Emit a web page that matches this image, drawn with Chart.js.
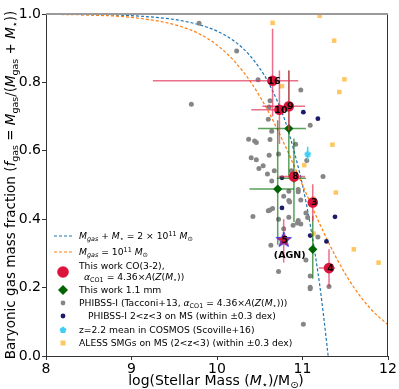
<!DOCTYPE html>
<html>
<head>
<meta charset="utf-8">
<script src="https://cdn.jsdelivr.net/npm/chart.js@4.4.0/dist/chart.umd.min.js"></script>
<style>
  html, body { margin: 0; padding: 0; background: #fff; }
</style>
</head>
<body>
<canvas id="c" width="399" height="389"></canvas>
<script>
// values

const xTicks = [8, 9, 10, 11, 12];
const xTickLabels = ['8', '9', '10', '11', '12'];
const yTicks = [0, 0.2, 0.4, 0.6, 0.8, 1.0];
const yTickLabels = ['0.0', '0.2', '0.4', '0.6', '0.8', '1.0'];

// model curves (sampled from the plot)
const blueX = [8, 8.5, 9, 9.5, 9.8, 10, 10.2, 10.4, 10.6, 10.8, 10.9, 11, 11.1, 11.2, 11.25, 11.3];
const blueY = [1.0, 0.998, 0.995, 0.984, 0.968, 0.95, 0.921, 0.874, 0.80, 0.685, 0.60, 0.50, 0.37, 0.21, 0.11, 0.0];
const orangeX = [8, 8.5, 9, 9.5, 9.8, 10, 10.2, 10.4, 10.6, 10.8, 11, 11.2, 11.4, 11.6, 11.8, 12];
const orangeY = [0.999, 0.997, 0.990, 0.969, 0.941, 0.909, 0.863, 0.799, 0.715, 0.613, 0.50, 0.387, 0.285, 0.201, 0.137, 0.091];

// this work CO(3-2)
const redLabels = ['16', '10', '9', '8', '3', '4'];
const redX = [10.65, 10.73, 10.84, 10.90, 11.12, 11.31];
const redY = [0.805, 0.72, 0.73, 0.525, 0.449, 0.257];
const redXLo = [9.25, 10.40, 10.53, 10.72, 11.08, 11.19];
const redXHi = [10.95, 10.88, 11.03, 11.03, 11.16, 11.38];
const redYLo = [0.70, 0.62, 0.66, 0.515, 0.395, 0.202];
const redYHi = [0.957, 0.835, 0.835, 0.535, 0.502, 0.312];

// AGN source (star)
const agnX = [10.78];
const agnY = [0.339];
const agnYLo = [0.273];
const agnYHi = [0.40];

// this work 1.1 mm
const greenX = [10.84, 10.90, 10.71, 11.12];
const greenY = [0.665, 0.52, 0.488, 0.312];
const greenXLo = [10.48, 10.70, 10.38, 11.08];
const greenXHi = [11.04, 11.04, 10.90, 11.16];
const greenYLo = [0.523, 0.392, 0.325, 0.226];
const greenYHi = [0.835, 0.636, 0.689, 0.41];

// PHIBSS-I
const grayX = [9.79, 10.23, 9.70, 10.48, 10.98, 10.62, 10.61, 10.60, 11.09, 10.64, 10.37, 10.44, 10.46, 10.62, 10.92,
  10.40, 10.46, 10.61, 10.72, 11.05, 10.49, 10.54, 10.59, 10.67, 10.64, 10.87, 11.24, 10.84, 10.78, 10.84, 10.85,
  10.95, 10.98, 10.65, 10.60, 10.62, 10.42, 10.84, 10.95, 10.89, 10.98, 11.06, 11.04, 10.94, 10.63, 11.04, 10.72,
  11.09, 11.09, 11.09, 11.31, 11.01, 11.18, 10.78, 10.72, 10.95];
const grayY = [0.973, 0.892, 0.736, 0.808, 0.778, 0.746, 0.728, 0.692, 0.675, 0.657, 0.634, 0.629, 0.624, 0.633, 0.619,
  0.580, 0.574, 0.587, 0.591, 0.572, 0.548, 0.556, 0.532, 0.542, 0.512, 0.542, 0.525, 0.482, 0.467, 0.455, 0.450,
  0.480, 0.456, 0.431, 0.425, 0.427, 0.408, 0.406, 0.396, 0.382, 0.386, 0.405, 0.418, 0.389, 0.324, 0.281, 0.247,
  0.234, 0.201, 0.197, 0.203, 0.093, 0.348, 0.372, 0.40, 0.487];

// PHIBSS-I 2<z<3 on MS
const navyX = [11.01, 11.18, 10.76, 10.76, 11.38, 11.09, 11.28];
const navyY = [0.713, 0.694, 0.521, 0.433, 0.407, 0.352, 0.335];

// Scoville+16 mean
const cyanX = [11.06];
const cyanY = [0.59];
const cyanYLo = [0.572];
const cyanYHi = [0.612];

// ALESS SMGs
const alessX = [10.65, 11.20, 11.37, 11.49, 11.43, 10.76, 11.35, 11.02, 11.39, 11.13, 11.13, 11.60, 11.89];
const alessY = [0.974, 0.995, 0.922, 0.809, 0.772, 0.789, 0.618, 0.558, 0.478, 0.46, 0.358, 0.312, 0.273];

const FONT = '"DejaVu Sans", sans-serif';
const RED = '#DC143C';
const RED_ERR = 'rgba(228, 50, 90, 0.7)';
const GREEN = '#006400';
const GREEN_ERR = 'rgba(0, 110, 0, 0.65)';
const GRAY = '#868686';
const NAVY = '#1c1a6a';
const CYAN = '#3fcff5';
const ALESS = 'rgba(255, 165, 0, 0.62)';

function pts(xs, ys) {
  return xs.map((x, i) => ({ x, y: ys[i] }));
}

function pentagon(r, color) {
  const c = document.createElement('canvas');
  c.width = c.height = Math.ceil(r * 2 + 2);
  const g = c.getContext('2d');
  const m = c.width / 2;
  g.beginPath();
  for (let i = 0; i < 5; i++) {
    const a = -Math.PI / 2 + i * 2 * Math.PI / 5;
    g.lineTo(m + r * Math.cos(a), m + r * Math.sin(a));
  }
  g.closePath();
  g.fillStyle = color;
  g.fill();
  return c;
}

function starImg(r) {
  const c = document.createElement('canvas');
  c.width = c.height = Math.ceil(r * 2 + 4);
  const g = c.getContext('2d');
  const m = c.width / 2;
  g.beginPath();
  for (let i = 0; i < 10; i++) {
    const a = -Math.PI / 2 + i * Math.PI / 5;
    const rr = i % 2 ? r * 0.42 : r;
    g.lineTo(m + rr * Math.cos(a), m + rr * Math.sin(a));
  }
  g.closePath();
  g.fillStyle = RED;
  g.fill();
  g.strokeStyle = '#3a3af0';
  g.lineWidth = 1;
  g.stroke();
  return c;
}

const cyanImg = pentagon(3.6, CYAN);
const agnImg = starImg(8);

function errSet(xs, ys, xlo, xhi, ylo, yhi, color) {
  return { xs, ys, xlo, xhi, ylo, yhi, color };
}

function drawErrors(chart, e) {
  const ctx = chart.ctx;
  const sx = chart.scales.x, sy = chart.scales.y;
  ctx.save();
  ctx.strokeStyle = e.color;
  ctx.lineWidth = 1.5;
  e.xs.forEach((x, i) => {
    const px = sx.getPixelForValue(x), py = sy.getPixelForValue(e.ys[i]);
    ctx.beginPath();
    if (e.xlo) {
      ctx.moveTo(sx.getPixelForValue(e.xlo[i]), py);
      ctx.lineTo(sx.getPixelForValue(e.xhi[i]), py);
    }
    if (e.ylo) {
      ctx.moveTo(px, sy.getPixelForValue(e.ylo[i]));
      ctx.lineTo(px, sy.getPixelForValue(e.yhi[i]));
    }
    ctx.stroke();
  });
  ctx.restore();
}

// draws text made of pieces: n normal, i italic, s subscript, si italic subscript, p superscript
function segFont(k, size) {
  const small = k === 's' || k === 'si' || k === 'p';
  const it = k === 'i' || k === 'si';
  return (it ? 'italic ' : '') + (small ? size * 0.7 : size) + 'px ' + FONT;
}
function richWidth(ctx, segs, size) {
  let w = 0;
  segs.forEach(([t, k]) => {
    ctx.font = segFont(k, size);
    w += ctx.measureText(t).width;
  });
  return w;
}
function drawRich(ctx, x, y, segs, size) {
  ctx.textAlign = 'left';
  ctx.textBaseline = 'alphabetic';
  segs.forEach(([t, k]) => {
    ctx.font = segFont(k, size);
    let dy = 0;
    if (k === 's' || k === 'si') dy = size * 0.22;
    if (k === 'p') dy = -size * 0.4;
    ctx.fillText(t, x, y + dy);
    x += ctx.measureText(t).width;
  });
}

const alphaCO = [['α', 'i'], ['CO1', 's'], [' = 4.36×', 'n'], ['A', 'i'], ['(', 'n'], ['Z', 'i'], ['(', 'n'], ['M', 'i'], ['⋆', 's']];
const legendRows = [
  { y: 236, x: 79, segs: [['M', 'i'], ['gas', 'si'], [' + ', 'n'], ['M', 'i'], ['⋆', 's'], [' = 2 × 10', 'n'], ['11', 'p'], [' ', 'n'], ['M', 'i'], ['⊙', 's']] },
  { y: 252, x: 79, segs: [['M', 'i'], ['gas', 'si'], [' = 10', 'n'], ['11', 'p'], [' ', 'n'], ['M', 'i'], ['⊙', 's']] },
  { y: 266, x: 79, segs: [['This work CO(3-2),', 'n']] },
  { y: 277, x: 84, segs: alphaCO.concat([['))', 'n']]) },
  { y: 290, x: 79, segs: [['This work 1.1 mm', 'n']] },
  { y: 303, x: 79, segs: [['PHIBSS-I (Tacconi+13, ', 'n']].concat(alphaCO, [[')))', 'n']]) },
  { y: 316, x: 88, segs: [['PHIBSS-I 2<z<3 on MS (within ±0.3 dex)', 'n']] },
  { y: 330, x: 79, segs: [['z=2.2 mean in COSMOS (Scoville+16)', 'n']] },
  { y: 343, x: 79, segs: [['ALESS SMGs on MS (2<z<3) (within ±0.3 dex)', 'n']] },
];

function drawLegend(ctx) {
  const size = 9.2;
  ctx.save();
  ctx.fillStyle = '#000';
  legendRows.forEach(r => drawRich(ctx, r.x, r.y + size * 0.36, r.segs, size));
  // line handles
  [[236, '#1f77b4'], [252, '#ff7f0e']].forEach(([y, col]) => {
    ctx.beginPath();
    ctx.setLineDash([3, 2]);
    ctx.strokeStyle = col;
    ctx.lineWidth = 1.2;
    ctx.moveTo(54, y);
    ctx.lineTo(73, y);
    ctx.stroke();
  });
  ctx.setLineDash([]);
  // marker handles
  ctx.fillStyle = RED;
  ctx.beginPath(); ctx.arc(63, 272, 5.8, 0, Math.PI * 2); ctx.fill();
  ctx.fillStyle = GREEN;
  ctx.beginPath(); ctx.moveTo(63, 285); ctx.lineTo(68, 290); ctx.lineTo(63, 295); ctx.lineTo(58, 290); ctx.closePath(); ctx.fill();
  ctx.fillStyle = GRAY;
  ctx.beginPath(); ctx.arc(63, 303, 2.4, 0, Math.PI * 2); ctx.fill();
  ctx.fillStyle = NAVY;
  ctx.beginPath(); ctx.arc(63, 316, 2.4, 0, Math.PI * 2); ctx.fill();
  ctx.drawImage(cyanImg, 63 - cyanImg.width / 2, 330 - cyanImg.height / 2);
  ctx.fillStyle = ALESS;
  ctx.fillRect(60.5, 340.5, 5, 5);
  ctx.restore();
}

const extras = {
  id: 'extras',
  beforeDatasetDraw(chart, args) {
    const ds = chart.data.datasets[args.index];
    if (ds.err) drawErrors(chart, ds.err);
  },
  afterDatasetsDraw(chart) {
    const ctx = chart.ctx;
    const sx = chart.scales.x, sy = chart.scales.y;
    ctx.save();
    ctx.fillStyle = '#000';
    ctx.font = 'bold 9.5px ' + FONT;
    ctx.textAlign = 'center';
    ctx.textBaseline = 'middle';
    redLabels.forEach((t, i) => {
      ctx.fillText(t, sx.getPixelForValue(redX[i]) + 1.5, sy.getPixelForValue(redY[i]) + 0.5);
    });
    const ax = sx.getPixelForValue(agnX[0]), ay = sy.getPixelForValue(agnY[0]);
    ctx.fillText('5', ax + 1, ay + 0.5);
    ctx.fillText('(AGN)', ax + 6, ay + 15);
    ctx.restore();
  },
  afterDraw(chart) {
    const ctx = chart.ctx;
    const a = chart.chartArea;
    ctx.save();
    ctx.strokeStyle = '#333';
    ctx.lineWidth = 1;
    ctx.beginPath();
    ctx.moveTo(a.right - 0.5, a.top);
    ctx.lineTo(a.right - 0.5, a.bottom);
    ctx.stroke();
    ctx.strokeStyle = '#9a9a9a';
    ctx.lineWidth = 2;
    ctx.beginPath();
    ctx.moveTo(a.left, a.top);
    ctx.lineTo(a.right, a.top);
    ctx.stroke();
    ctx.fillStyle = '#000';
    // x title
    const xs = [['log(Stellar Mass (', 'n'], ['M', 'i'], ['⋆', 's'], [')/M', 'n'], ['⊙', 's'], [')', 'n']];
    const xw = richWidth(ctx, xs, 14);
    drawRich(ctx, 216 - xw / 2, 385, xs, 14);
    // y title
    const ys = [['Baryonic gas mass fraction (', 'n'], ['f', 'i'], ['gas', 's'], [' = ', 'n'], ['M', 'i'], ['gas', 's'],
      ['/(', 'n'], ['M', 'i'], ['gas', 's'], [' + ', 'n'], ['M', 'i'], ['⋆', 's'], ['))', 'n']];
    const yw = richWidth(ctx, ys, 13.5);
    ctx.translate(15, 185);
    ctx.rotate(-Math.PI / 2);
    drawRich(ctx, -yw / 2, 0, ys, 13.5);
    ctx.restore();
    drawLegend(ctx);
  }
};

const scatterBase = { showLine: false, pointBorderWidth: 0 };

new Chart(document.getElementById('c'), {
  type: 'scatter',
  data: {
    datasets: [
      { data: pts(blueX, blueY), showLine: true, borderColor: '#1f77b4', borderWidth: 1.2, borderDash: [3, 2],
        pointRadius: 0, cubicInterpolationMode: 'monotone', fill: false, order: 9 },
      { data: pts(orangeX, orangeY), showLine: true, borderColor: '#ff7f0e', borderWidth: 1.2, borderDash: [3, 2],
        pointRadius: 0, cubicInterpolationMode: 'monotone', fill: false, order: 8 },
      { ...scatterBase, data: pts(grayX, grayY), pointRadius: 2.5, backgroundColor: GRAY, order: 7 },
      { ...scatterBase, data: pts(navyX, navyY), pointRadius: 2.4, backgroundColor: NAVY, order: 6 },
      { ...scatterBase, data: pts(alessX, alessY), pointStyle: 'rect', pointRadius: 3.2, backgroundColor: ALESS, order: 5 },
      { ...scatterBase, data: pts(cyanX, cyanY), pointStyle: cyanImg, order: 4,
        err: errSet(cyanX, cyanY, null, null, cyanYLo, cyanYHi, CYAN) },
      { ...scatterBase, data: pts(greenX, greenY), pointStyle: 'rectRot', pointRadius: 4.6, backgroundColor: GREEN, order: 3,
        err: errSet(greenX, greenY, greenXLo, greenXHi, greenYLo, greenYHi, GREEN_ERR) },
      { ...scatterBase, data: pts(redX, redY), pointRadius: 5.3, backgroundColor: RED, order: 2,
        err: errSet(redX, redY, redXLo, redXHi, redYLo, redYHi, RED_ERR) },
      { ...scatterBase, data: pts(agnX, agnY), pointStyle: agnImg, order: 1,
        err: errSet(agnX, agnY, null, null, agnYLo, agnYHi, RED_ERR) },
    ]
  },
  options: {
    responsive: false,
    animation: false,
    devicePixelRatio: 1,
    layout: { padding: { left: 0, right: 11, top: 14, bottom: 0 } },
    plugins: { legend: { display: false }, tooltip: { enabled: false } },
    scales: {
      x: {
        type: 'linear', min: 8, max: 12,
        afterBuildTicks: s => { s.ticks = xTicks.map(v => ({ value: v })); },
        afterFit: s => { s.height = 33; },
        ticks: { callback: (v, i) => xTickLabels[i], font: { family: FONT, size: 14 }, color: '#000', padding: 1, maxRotation: 0, autoSkip: false },
        grid: { display: true, drawOnChartArea: false, drawTicks: true, tickLength: 4, color: '#333' },
        border: { display: true, color: '#333', width: 1 },
      },
      y: {
        type: 'linear', min: 0, max: 1,
        afterBuildTicks: s => { s.ticks = yTicks.map(v => ({ value: v })); },
        afterFit: s => { s.width = 46; },
        ticks: { callback: (v, i) => yTickLabels[i], font: { family: FONT, size: 14 }, color: '#000', padding: 1, autoSkip: false },
        grid: { display: true, drawOnChartArea: false, drawTicks: true, tickLength: 4, color: '#333' },
        border: { display: true, color: '#333', width: 1 },
      },
    },
  },
  plugins: [extras],
});
</script>
</body>
</html>
